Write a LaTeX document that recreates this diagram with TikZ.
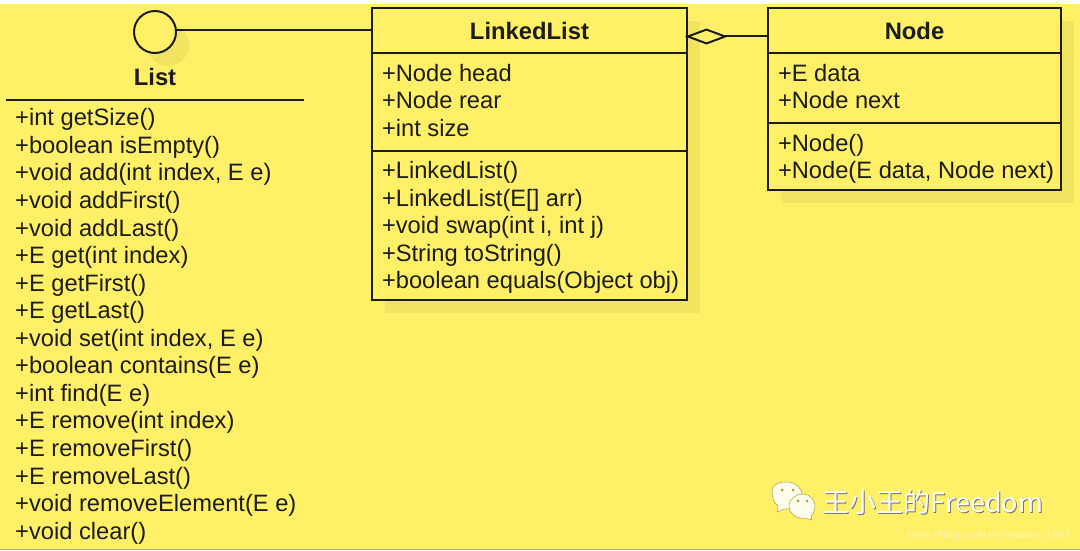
\documentclass[tikz,border=0pt]{standalone}
\usepackage{fontspec}
\setmainfont{Liberation Sans}
\newfontfamily\cjkfont{Noto Sans CJK SC}
\usetikzlibrary{arrows.meta, positioning, calc, backgrounds}
\definecolor{umlyellow}{RGB}{255, 240, 104}
\definecolor{umlshadow}{RGB}{241, 228, 96}
\definecolor{umlink}{RGB}{28, 28, 22}
\definecolor{bubble}{RGB}{254, 253, 236}

\begin{document}
\begin{tikzpicture}[
        x=1pt, y=-1pt,
        node distance=0pt,
        every node/.style={text=umlink},
        title/.style={rectangle, draw=umlink, fill=umlyellow, line width=2pt, inner sep=0pt, outer sep=0pt,
                      minimum height=45pt, font=\fontsize{23.8}{27.5}\selectfont\bfseries},
        members/.style={rectangle, draw=umlink, fill=umlyellow, line width=2pt, inner xsep=10pt, inner ysep=0pt, outer sep=0pt,
                      align=flush left, font=\fontsize{23.7}{27.5}\selectfont},
        fields/.style={members, execute at end node=\vspace{3pt}},
        methods/.style={members, execute at begin node=\rule{0pt}{21.5pt}},
        link/.style={draw=umlink, line width=2pt},
        shadowbox/.style={fill=umlshadow},
        mark text/.style={font=\cjkfont\fontsize{27}{30}\selectfont},
    ]
    \useasboundingbox (0,0) rectangle (1080,551);

    % interface lollipop
    \node[circle, draw=umlink, fill=umlyellow, line width=2pt, minimum size=42pt, inner sep=0pt, outer sep=0pt] (listcircle) at (155,32) {};
    \node[font=\fontsize{23.8}{27.5}\selectfont\bfseries, inner sep=0pt] (listname) at (155,77) {List};
    \coordinate (rulestart) at (6,100);
    \coordinate (ruleend) at (304,100);
    \draw[link] (rulestart) -- (ruleend);
    \node[anchor=north west, align=flush left, inner sep=0pt, font=\fontsize{23.7}{27.55}\selectfont] (listmethods) at (15,108.5) {%
        +int getSize()\\+boolean isEmpty()\\+void add(int index, E e)\\+void addFirst()\\
        +void addLast()\\+E get(int index)\\+E getFirst()\\+E getLast()\\
        +void set(int index, E e)\\+boolean contains(E e)\\+int find(E e)\\+E remove(int index)\\
        +E removeFirst()\\+E removeLast()\\+void removeElement(E e)\\+void clear()};

    % LinkedList class
    \node[title, minimum width=315pt] (lltitle) at (529.5,30.5) {LinkedList};
    \node[fields, text width=295pt, minimum height=98pt, below=of lltitle] (llfields) {+Node head\\+Node rear\\+int size};
    \node[methods, text width=295pt, minimum height=149pt, below=of llfields] (llmethods) {+LinkedList()\\+LinkedList(E[] arr)\\+void swap(int i, int j)\\+String toString()\\\mbox{+boolean equals(Object obj)}};

    % Node class
    \node[title, minimum width=293pt] (nodetitle) at (914.5,30.5) {Node};
    \node[fields, text width=273pt, minimum height=70pt, below=of nodetitle] (nodefields) {+E data\\+Node next};
    \node[methods, text width=273pt, minimum height=67pt, below=of nodefields] (nodemethods) {+Node()\\\mbox{+Node(E data, Node next)}};

    % connectors
    \draw[link] (lltitle.west) -- (lltitle.west -| listcircle.east);
    \coordinate (aggstart) at ($(nodetitle.west)+(0,6)$);
    \coordinate (aggend) at ($(lltitle.east)+(-2,6)$);
    \draw[link, {Diamond[open, fill=umlyellow, length=43pt, width=16pt, line width=2pt]}-] (aggend) -- (aggstart);

    % page and drop shadows
    \begin{scope}[on background layer]
        \fill[white] (0,0) rectangle (1080,551);
        \fill[umlyellow] (0,4) rectangle (1080,549);
        \draw[gray!70, line width=1pt] (0,549.5) -- (1080,549.5);
        \fill[shadowbox] ($(lltitle.north west)+(13,13)$) rectangle ($(llmethods.south east)+(13,13)$);
        \fill[shadowbox] ($(nodetitle.north west)+(13,13)$) rectangle ($(nodemethods.south east)+(13,13)$);
        \fill[shadowbox] ($(listcircle.center)+(13,13)$) circle (21);
    \end{scope}

    % watermark
    \fill[bubble, draw=umlshadow!70!black, line width=0.5pt] (772,492) .. controls (772,482) and (782,482) .. (787,482)
        .. controls (796,482) and (802,488) .. (802,496) .. controls (802,506) and (792,509) .. (785,509)
        -- (777,512) -- (778,506) .. controls (774,503) and (772,498) .. (772,492);
    \fill[bubble, draw=umlshadow!70!black, line width=0.5pt] (789,506) .. controls (789,498) and (797,494) .. (803,494)
        .. controls (810,494) and (815,500) .. (815,506) .. controls (815,510) and (813,514) .. (811,516)
        -- (812,520) -- (805,518) .. controls (796,519) and (789,514) .. (789,506);
    \fill[umlshadow!70!black] (782,490) circle (1.5) (793,490) circle (1.5) (798,501) circle (1.5) (807,501) circle (1.5);
    \node[mark text, text=black!55, inner sep=0pt] (markshade) at (934,503) {王小王的Freedom};
    \node[mark text, text=white, inner sep=0pt] (marktext) at (933,502) {王小王的Freedom};
    \node[text=white, opacity=0.45, inner sep=0pt, font=\fontsize{10.8}{14}\selectfont] (markurl) at (988.5,536) {https://blog.csdn.net/master\_1997};
\end{tikzpicture}
\end{document}
